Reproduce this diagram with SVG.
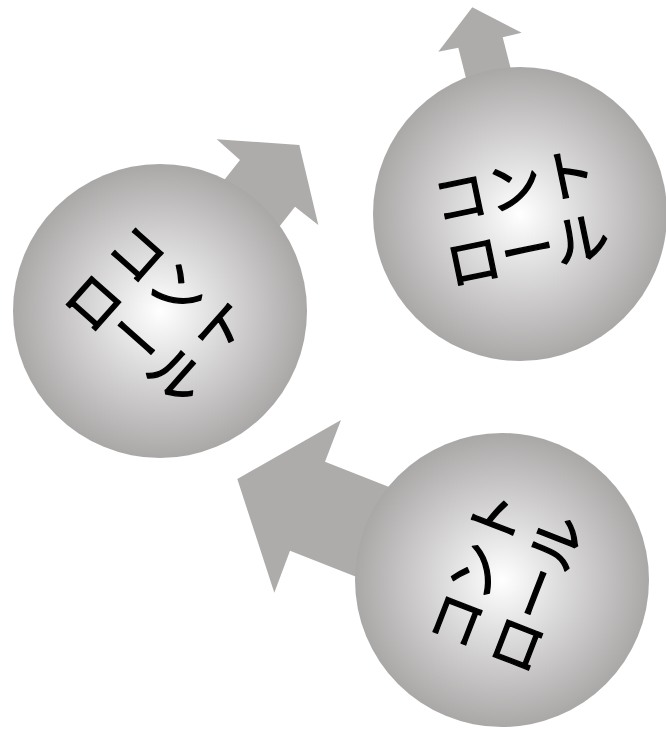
<svg xmlns="http://www.w3.org/2000/svg" width="666" height="730" viewBox="0 0 666 730">
  <defs>
    <radialGradient id="ball" cx="50%" cy="50%" r="50%">
      <stop offset="0" stop-color="#FFFFFF"/>
      <stop offset="1" stop-color="#AAA7A7"/>
    </radialGradient>
    <style>
      .arrow { fill: #AEABAB; }
      .sphere { fill: url(#ball); }
      .label { font-family: "Noto Sans CJK JP", "Noto Sans", sans-serif; font-size: 55px; fill: #000000; stroke: #000000; stroke-width: 1.3px; stroke-linejoin: round; stroke-linecap: round; text-anchor: middle; }
    </style>
  </defs>
  <rect width="666" height="730" fill="#FFFFFF"/>
  <g id="connectors">
    <polygon class="arrow" points="135,293 240,160 216.7,139.3 299.3,145 318.3,225 295,206.7 190,340"/>
    <polygon class="arrow" points="500,213 458.3,47.7 438.3,51.7 472.3,7.3 521.7,32.7 502.7,37.3 545,202"/>
    <polygon class="arrow" points="511,535 325,461.7 341,420 237.3,479 274.3,592.7 290,550.7 476,624"/>
  </g>
  <g id="node1">
    <circle class="sphere" cx="160" cy="311" r="147"/>
    <text class="label" transform="translate(160 311) rotate(41.5)"><tspan x="0" y="-8">コント</tspan><tspan x="0" y="57">ロール</tspan></text>
  </g>
  <g id="node2">
    <circle class="sphere" cx="520" cy="214" r="147"/>
    <text class="label" transform="translate(520 214) rotate(-11.7)"><tspan x="0" y="-8">コント</tspan><tspan x="0" y="57">ロール</tspan></text>
  </g>
  <g id="node3">
    <circle class="sphere" cx="502" cy="580" r="147"/>
    <text class="label" transform="translate(502 580) rotate(-68.8)"><tspan x="0" y="-8">コント</tspan><tspan x="0" y="57">ロール</tspan></text>
  </g>
</svg>
